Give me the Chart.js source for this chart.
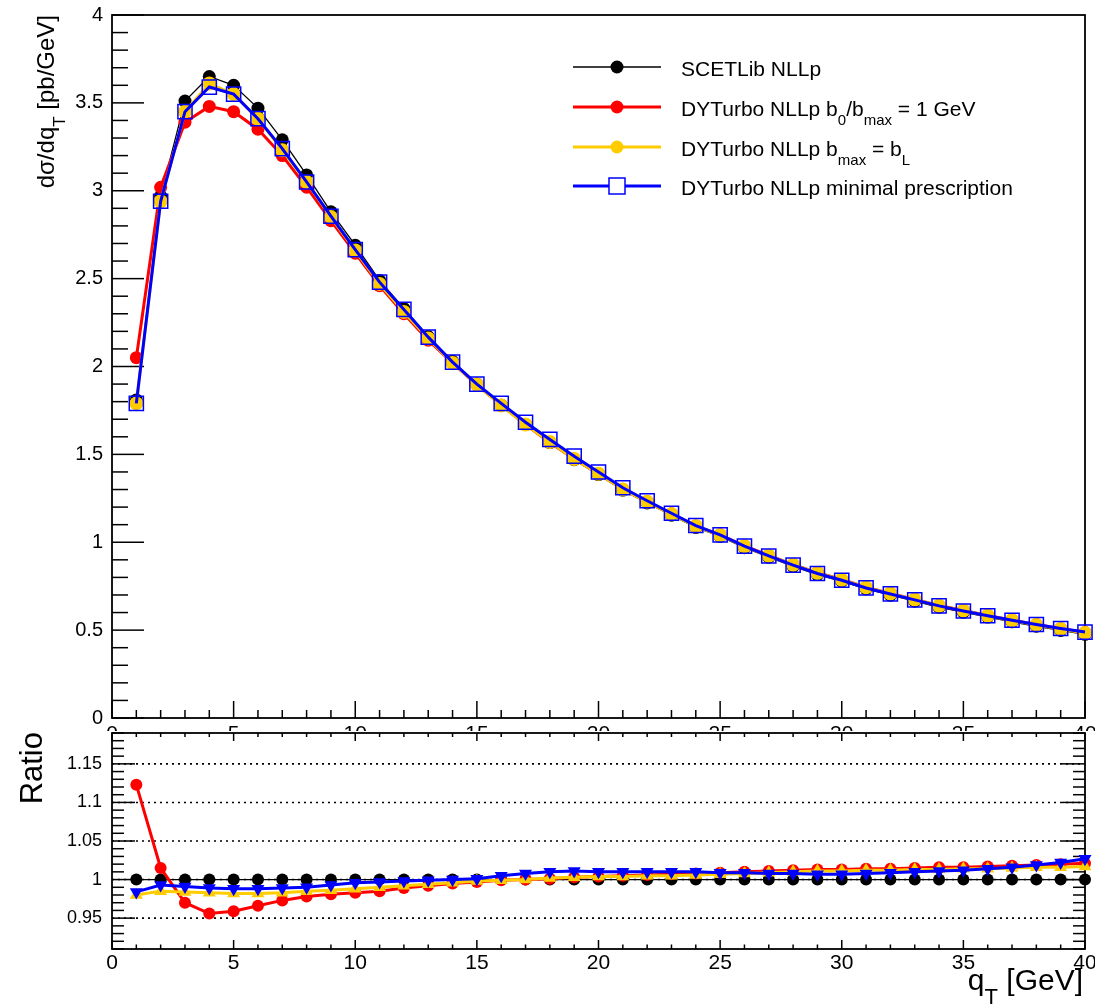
<!DOCTYPE html>
<html>
<head>
<meta charset="utf-8">
<script src="https://cdn.jsdelivr.net/npm/chart.js@4.4.0/dist/chart.umd.min.js"></script>
<style>
  html, body { margin: 0; padding: 0; background: #fff; }
  #wrap { position: relative; width: 1095px; height: 1006px; overflow: hidden; background: #fff; }
  #top { position: absolute; left: 0; top: 0; }
  #ratio { position: absolute; left: 0; top: 731px; background: #fff; }
</style>
</head>
<body>
<div id="wrap">
  <canvas id="top" width="1095" height="737"></canvas>
  <canvas id="ratio" width="1095" height="275"></canvas>
</div>
<script>
// q_T bins (GeV)
const qT = [1, 2, 3, 4, 5, 6, 7, 8, 9, 10, 11, 12, 13, 14, 15, 16, 17, 18, 19, 20,
            21, 22, 23, 24, 25, 26, 27, 28, 29, 30, 31, 32, 33, 34, 35, 36, 37, 38, 39, 40];

// dsigma/dqT [pb/GeV]
const scetlib = [1.81, 2.97, 3.51, 3.65, 3.60, 3.47, 3.29, 3.09, 2.88, 2.69,
                 2.49, 2.33, 2.17, 2.03, 1.90, 1.78, 1.67, 1.567, 1.47, 1.385,
                 1.296, 1.224, 1.154, 1.084, 1.033, 0.969, 0.915, 0.863, 0.816, 0.778,
                 0.734, 0.699, 0.665, 0.630, 0.602, 0.574, 0.547, 0.522, 0.498, 0.476];
const dyBmax1 = [2.05, 3.02, 3.39, 3.48, 3.45, 3.35, 3.20, 3.02, 2.83, 2.645,
                 2.46, 2.30, 2.15, 2.02, 1.895, 1.78, 1.67, 1.568, 1.474, 1.39,
                 1.302, 1.231, 1.162, 1.093, 1.042, 0.979, 0.925, 0.873, 0.827, 0.788,
                 0.744, 0.709, 0.675, 0.640, 0.612, 0.584, 0.557, 0.532, 0.508, 0.486];
const dyBmaxL = [1.79, 2.94, 3.45, 3.61, 3.55, 3.41, 3.23, 3.05, 2.85, 2.66,
                 2.47, 2.31, 2.16, 2.02, 1.897, 1.778, 1.67, 1.57, 1.474, 1.39,
                 1.30, 1.23, 1.16, 1.091, 1.04, 0.977, 0.923, 0.872, 0.825, 0.787,
                 0.743, 0.708, 0.674, 0.639, 0.611, 0.582, 0.555, 0.530, 0.506, 0.484];
const dyMinPres = [1.79, 2.94, 3.45, 3.59, 3.55, 3.41, 3.24, 3.05, 2.855, 2.665,
                   2.48, 2.325, 2.167, 2.025, 1.90, 1.79, 1.683, 1.585, 1.49, 1.40,
                   1.31, 1.236, 1.165, 1.095, 1.042, 0.978, 0.922, 0.870, 0.822, 0.784,
                   0.740, 0.706, 0.672, 0.638, 0.609, 0.582, 0.556, 0.532, 0.509, 0.489];

// ratios to SCETLib
const ratioScetlib = [1, 1, 1, 1, 1, 1, 1, 1, 1, 1, 1, 1, 1, 1, 1, 1, 1, 1, 1, 1,
                      1, 1, 1, 1, 1, 1, 1, 1, 1, 1, 1, 1, 1, 1, 1, 1, 1, 1, 1, 1];
const ratioBmax1 = [1.123, 1.015, 0.970, 0.956, 0.959, 0.966, 0.973, 0.978, 0.981, 0.983,
                    0.985, 0.989, 0.992, 0.995, 0.997, 0.999, 1.000, 1.001, 1.003, 1.004,
                    1.005, 1.006, 1.007, 1.008, 1.009, 1.010, 1.011, 1.012, 1.013, 1.013,
                    1.014, 1.014, 1.015, 1.016, 1.016, 1.017, 1.018, 1.019, 1.020, 1.021];
const ratioBmaxL = [0.980, 0.985, 0.984, 0.983, 0.982, 0.982, 0.983, 0.985, 0.986, 0.988,
                    0.990, 0.992, 0.994, 0.996, 0.998, 0.999, 1.000, 1.002, 1.003, 1.004,
                    1.004, 1.005, 1.005, 1.006, 1.007, 1.008, 1.009, 1.010, 1.011, 1.011,
                    1.012, 1.012, 1.013, 1.013, 1.014, 1.014, 1.015, 1.016, 1.016, 1.017];
const ratioMinPres = [0.984, 0.993, 0.991, 0.989, 0.988, 0.988, 0.989, 0.990, 0.993, 0.996,
                      0.997, 0.998, 0.999, 1.000, 1.001, 1.005, 1.008, 1.010, 1.011, 1.010,
                      1.010, 1.010, 1.010, 1.010, 1.009, 1.009, 1.008, 1.008, 1.007, 1.007,
                      1.008, 1.009, 1.010, 1.011, 1.012, 1.014, 1.016, 1.019, 1.022, 1.027];

// axis ticks
const xTicks = [0, 5, 10, 15, 20, 25, 30, 35, 40];
const xTickLabels = ['0', '5', '10', '15', '20', '25', '30', '35', '40'];
const yTicks = [0, 0.5, 1, 1.5, 2, 2.5, 3, 3.5, 4];
const yTickLabels = ['0', '0.5', '1', '1.5', '2', '2.5', '3', '3.5', '4'];
const ratioTicks = [0.95, 1, 1.05, 1.1, 1.15];
const ratioTickLabels = ['0.95', '1', '1.05', '1.1', '1.15'];

const FONT = '"Liberation Sans", Arial, Helvetica, sans-serif';
const BLACK = '#000000', RED = '#ff0000', YELLOW = '#ffcc00', BLUE = '#0000ff';

function pts(ys) { return qT.map((x, i) => ({ x: x, y: ys[i] })); }
function font(size) { return size + 'px ' + FONT; }

// text with subscript runs, e.g. [{t:'dq'}, {t:'T', sub:true}]
function drawRuns(ctx, runs, x, y, size, align) {
  const subSize = Math.round(size * 0.72);
  const widths = runs.map(r => { ctx.font = font(r.sub ? subSize : size); return ctx.measureText(r.t).width; });
  const total = widths.reduce((s, w) => s + w, 0);
  let cx = align === 'right' ? x - total : x;
  runs.forEach((r, i) => {
    ctx.font = font(r.sub ? subSize : size);
    ctx.fillText(r.t, cx, y + (r.sub ? size * 0.45 : 0));
    cx += widths[i];
  });
}

// ROOT-like frame with inward ticks
const rootAxes = {
  id: 'rootAxes',
  beforeDatasetsDraw(chart, args, o) {
    const { ctx, chartArea: a, scales: { x, y } } = chart;
    ctx.save();
    ctx.strokeStyle = BLACK;
    const seg = (x1, y1, x2, y2) => { ctx.beginPath(); ctx.moveTo(x1, y1); ctx.lineTo(x2, y2); ctx.stroke(); };

    if (o.grid) {
      ctx.lineWidth = 1.6;
      ctx.setLineDash([2, 4]);
      o.grid.forEach(v => { const py = y.getPixelForValue(v); seg(a.left, py, a.right, py); });
      ctx.setLineDash([]);
    }

    ctx.lineWidth = 1.5;
    for (let i = 0; i <= 40; i++) {
      const px = x.getPixelForValue(i);
      const major = i % 5 === 0;
      seg(px, a.bottom, px, a.bottom - (major ? o.xBottom[0] : o.xBottom[1]));
      if (o.xTop) seg(px, a.top, px, a.top + (major ? o.xTop[0] : o.xTop[1]));
    }
    // y ticks, counted in hundredths
    for (let k = o.yFrom; k <= o.yTo; k += o.yStep) {
      const py = y.getPixelForValue(k / 100);
      const major = k % o.yMajor === 0;
      const len = major ? o.yLen[0] : o.yLen[1];
      seg(a.left, py, a.left + len, py);
      if (o.yRight) seg(a.right, py, a.right - len, py);
    }

    ctx.lineWidth = 1.8;
    ctx.strokeRect(a.left, a.top, a.right - a.left, a.bottom - a.top);
    ctx.restore();
  }
};

// legend and axis title of the main panel
const topDecor = {
  id: 'topDecor',
  afterDraw(chart) {
    const ctx = chart.ctx;
    ctx.save();
    ctx.fillStyle = BLACK;
    ctx.textBaseline = 'alphabetic';

    ctx.save();
    ctx.translate(54, 15);
    ctx.rotate(-Math.PI / 2);
    drawRuns(ctx, [{ t: 'd\u03c3/dq' }, { t: 'T', sub: true }, { t: ' [pb/GeV]' }], 0, 0, 24, 'right');
    ctx.restore();

    const entries = [
      { y: 67, color: BLACK, width: 1.3, marker: 'circle', runs: [{ t: 'SCETLib NLLp' }] },
      { y: 107, color: RED, width: 3, marker: 'circle',
        runs: [{ t: 'DYTurbo NLLp b' }, { t: '0', sub: true }, { t: '/b' }, { t: 'max', sub: true }, { t: ' = 1 GeV' }] },
      { y: 147, color: YELLOW, width: 3, marker: 'circle',
        runs: [{ t: 'DYTurbo NLLp b' }, { t: 'max', sub: true }, { t: ' = b' }, { t: 'L', sub: true }] },
      { y: 186, color: BLUE, width: 3, marker: 'square', runs: [{ t: 'DYTurbo NLLp minimal prescription' }] }
    ];
    entries.forEach(e => {
      ctx.strokeStyle = e.color;
      ctx.lineWidth = e.width;
      ctx.beginPath(); ctx.moveTo(573, e.y); ctx.lineTo(661, e.y); ctx.stroke();
      if (e.marker === 'circle') {
        ctx.fillStyle = e.color;
        ctx.beginPath(); ctx.arc(617, e.y, 6.5, 0, Math.PI * 2); ctx.fill();
      } else {
        ctx.fillStyle = '#fff';
        ctx.fillRect(609, e.y - 8, 16, 16);
        ctx.lineWidth = 1.5;
        ctx.strokeRect(609, e.y - 8, 16, 16);
      }
      ctx.fillStyle = BLACK;
      drawRuns(ctx, e.runs, 681, e.y + 9, 21, 'left');
    });
    ctx.restore();
  }
};

const ratioDecor = {
  id: 'ratioDecor',
  afterDraw(chart) {
    const ctx = chart.ctx;
    ctx.save();
    ctx.fillStyle = BLACK;
    ctx.textBaseline = 'alphabetic';
    ctx.save();
    ctx.translate(42, 1);
    ctx.rotate(-Math.PI / 2);
    ctx.font = font(31);
    ctx.textAlign = 'right';
    ctx.fillText('Ratio', 0, 0);
    ctx.restore();
    drawRuns(ctx, [{ t: 'q' }, { t: 'T', sub: true }, { t: ' [GeV]' }], 1083, 259, 30, 'right');
    ctx.restore();
  }
};

function lineSet(label, data, color, width, style, radius, order, extra) {
  return Object.assign({
    label: label,
    data: data,
    borderColor: color,
    borderWidth: width,
    backgroundColor: color,
    pointStyle: style,
    pointRadius: radius,
    pointBackgroundColor: color,
    pointBorderColor: color,
    pointBorderWidth: 0,
    pointHoverRadius: radius,
    tension: 0,
    clip: false,
    order: order
  }, extra || {});
}

function tickSetter(values) {
  return axis => { axis.ticks = values.map(v => ({ value: v })); };
}
// fixed axis box, no extra room for overhanging labels
function fixBox(w, h) {
  return s => {
    if (w !== null) s.width = w;
    if (h !== null) s.height = h;
    s.paddingLeft = 0; s.paddingRight = 0; s.paddingTop = 0; s.paddingBottom = 0;
  };
}

const baseOpts = {
  responsive: false,
  animation: false,
  events: [],
  plugins: { legend: { display: false }, tooltip: { enabled: false } }
};

new Chart(document.getElementById('top'), {
  type: 'line',
  data: {
    datasets: [
      lineSet('SCETLib NLLp', pts(scetlib), BLACK, 1.3, 'circle', 6.5, 3),
      lineSet('DYTurbo NLLp b0/bmax = 1 GeV', pts(dyBmax1), RED, 3, 'circle', 6.5, 2),
      lineSet('DYTurbo NLLp bmax = bL', pts(dyBmaxL), YELLOW, 3, 'circle', 7, 1),
      lineSet('DYTurbo NLLp minimal prescription', pts(dyMinPres), BLUE, 3, 'rect', 10, 0,
              { pointBackgroundColor: 'rgba(0,0,0,0)', pointBorderWidth: 1.5 })
    ]
  },
  options: Object.assign({}, baseOpts, {
    layout: { autoPadding: false, padding: { top: 15, right: 10, left: 0, bottom: 0 } },
    scales: {
      x: {
        type: 'linear', min: 0, max: 40,
        grid: { display: false, drawTicks: false }, border: { display: false },
        afterBuildTicks: tickSetter(xTicks),
        afterFit: fixBox(null, 19),
        ticks: { autoSkip: false, maxRotation: 0, padding: 4, color: BLACK,
                 font: { family: FONT, size: 21 },
                 callback: (v) => xTickLabels[xTicks.indexOf(v)] }
      },
      y: {
        type: 'linear', min: 0, max: 4,
        grid: { display: false, drawTicks: false }, border: { display: false },
        afterBuildTicks: tickSetter(yTicks),
        afterFit: fixBox(112, null),
        ticks: { autoSkip: false, padding: 9, color: BLACK,
                 font: { family: FONT, size: 20 },
                 callback: (v) => yTickLabels[yTicks.indexOf(v)] }
      }
    },
    plugins: Object.assign({}, baseOpts.plugins, {
      rootAxes: { xBottom: [17, 8], yFrom: 0, yTo: 400, yStep: 10, yMajor: 50, yLen: [32, 16] }
    })
  }),
  plugins: [rootAxes, topDecor]
});

new Chart(document.getElementById('ratio'), {
  type: 'line',
  data: {
    datasets: [
      lineSet('SCETLib NLLp', pts(ratioScetlib), BLACK, 1.3, 'circle', 6, 3),
      lineSet('DYTurbo NLLp b0/bmax = 1 GeV', pts(ratioBmax1), RED, 3, 'circle', 6, 2),
      lineSet('DYTurbo NLLp bmax = bL', pts(ratioBmaxL), YELLOW, 3, 'triangle', 7.5, 1),
      lineSet('DYTurbo NLLp minimal prescription', pts(ratioMinPres), BLUE, 3, 'triangle', 7.5, 0,
              { pointRotation: 180 })
    ]
  },
  options: Object.assign({}, baseOpts, {
    layout: { autoPadding: false, padding: { top: 2, right: 10, left: 0, bottom: 0 } },
    scales: {
      x: {
        type: 'linear', min: 0, max: 40,
        grid: { display: false, drawTicks: false }, border: { display: false },
        afterBuildTicks: tickSetter(xTicks),
        afterFit: fixBox(null, 57),
        ticks: { autoSkip: false, maxRotation: 0, padding: 2, color: BLACK,
                 font: { family: FONT, size: 21 },
                 callback: (v) => xTickLabels[xTicks.indexOf(v)] }
      },
      y: {
        type: 'linear', min: 0.91, max: 1.19,
        grid: { display: false, drawTicks: false }, border: { display: false },
        afterBuildTicks: tickSetter(ratioTicks),
        afterFit: fixBox(112, null),
        ticks: { autoSkip: false, padding: 10, color: BLACK,
                 font: { family: FONT, size: 18 },
                 callback: (v) => ratioTickLabels[ratioTicks.indexOf(v)] }
      }
    },
    plugins: Object.assign({}, baseOpts.plugins, {
      rootAxes: { grid: ratioTicks, xBottom: [9, 4.5], xTop: [8, 4], yFrom: 91, yTo: 119, yStep: 1, yMajor: 5,
                  yLen: [23, 12], yRight: true }
    })
  }),
  plugins: [rootAxes, ratioDecor]
});
</script>
</body>
</html>
